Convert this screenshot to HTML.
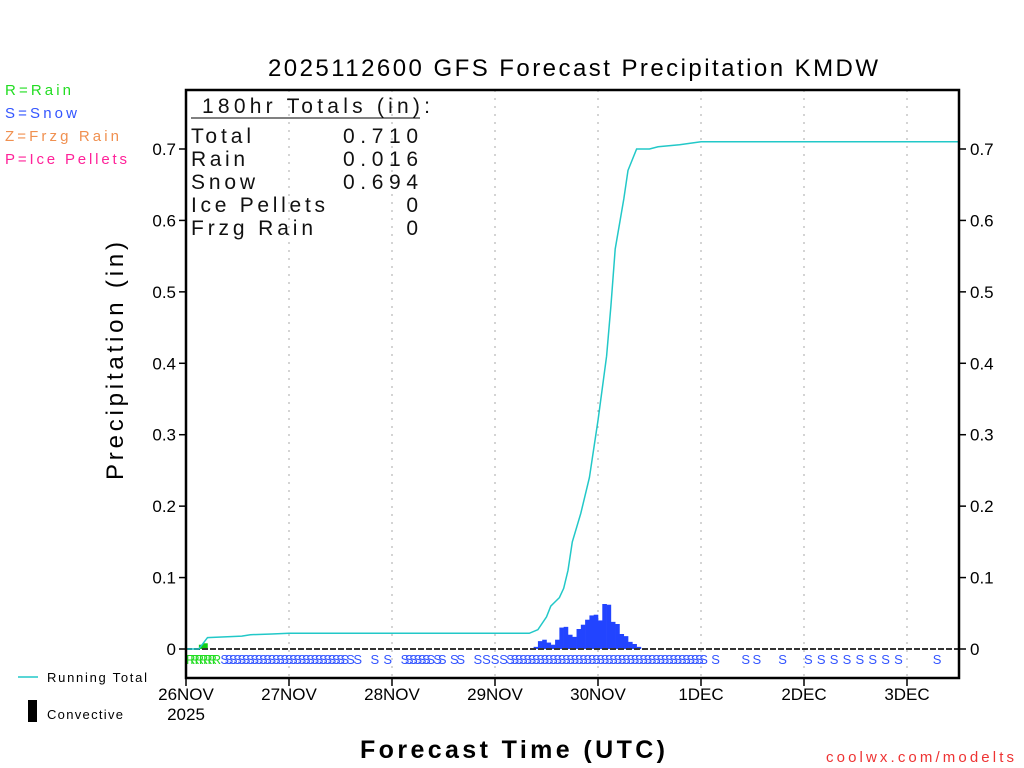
<!DOCTYPE html>
<html><head><meta charset="utf-8"><style>
body{margin:0;background:#fff;width:1024px;height:768px;overflow:hidden}
svg{display:block;font-family:"Liberation Sans","DejaVu Sans",sans-serif}
</style></head><body>
<svg id="chart" width="1024" height="768" viewBox="0 0 1024 768" xmlns="http://www.w3.org/2000/svg">
<text x="268" y="76" font-size="24" textLength="610" lengthAdjust="spacing" fill="#000">2025112600 GFS Forecast Precipitation KMDW</text>
<g font-size="15">
<text x="5" y="95" fill="#22dd22" textLength="66">R=Rain</text>
<text x="5" y="118" fill="#3355ff" textLength="72">S=Snow</text>
<text x="5" y="141" fill="#f09050" textLength="114">Z=Frzg Rain</text>
<text x="5" y="164" fill="#ff2299" textLength="122">P=Ice Pellets</text>
</g>
<g id="grid"></g>
<g id="bars"></g>
<line x1="186" y1="649" x2="959" y2="649" stroke="#333" stroke-width="2" stroke-dasharray="6,2"/>
<path id="line" fill="none" stroke="#22c8c8" stroke-width="1.5"/>
<g id="letters" font-size="13"></g>
<rect x="186" y="90" width="773" height="588" fill="none" stroke="#000" stroke-width="2.5"/>
<g id="axes" font-size="17"></g>
<g font-size="21" fill="#111">
<text x="202" y="113" textLength="228">180hr Totals (in):</text>
<line x1="191" y1="118" x2="420" y2="118" stroke="#000" stroke-width="1"/>
<text x="191" y="143" textLength="60">Total</text><text x="343" y="143" textLength="75">0.710</text>
<text x="191" y="166" textLength="54">Rain</text><text x="343" y="166" textLength="75">0.016</text>
<text x="191" y="189" textLength="64">Snow</text><text x="343" y="189" textLength="75">0.694</text>
<text x="191" y="212" textLength="134">Ice Pellets</text><text x="418" y="212" text-anchor="end">0</text>
<text x="191" y="235" textLength="122">Frzg Rain</text><text x="418" y="235" text-anchor="end">0</text>
</g>
<text x="123" y="361" font-size="24" text-anchor="middle" textLength="238" transform="rotate(-90 123 361)">Precipitation (in)</text>
<text x="360" y="758" font-size="25" textLength="305" font-weight="bold">Forecast Time (UTC)</text>
<text x="826" y="762" font-size="15" textLength="188" fill="#ee3333">coolwx.com/modelts</text>
<g>
<line x1="18" y1="677" x2="38" y2="677" stroke="#22c8c8" stroke-width="1.5"/>
<text x="47" y="682" font-size="13" textLength="100">Running Total</text>
<rect x="28" y="700" width="9" height="22" fill="#000"/>
<text x="47" y="719" font-size="13" textLength="76">Convective</text>
</g>
</svg>
<script>
const dayLabels=["26NOV","27NOV","28NOV","29NOV","30NOV","1DEC","2DEC","3DEC"];
const yTicks=[0,0.1,0.2,0.3,0.4,0.5,0.6,0.7];
const barHours=[4,5,82,83,84,85,86,87,88,89,90,91,92,93,94,95,96,97,98,99,100,101,102,103,104,105,106];
const barValues=[0.006,0.008,0.003,0.011,0.013,0.009,0.006,0.013,0.030,0.031,0.020,0.017,0.028,0.034,0.041,0.047,0.048,0.040,0.063,0.062,0.038,0.035,0.021,0.018,0.010,0.007,0.003];
const barTypes=["R","R","S","S","S","S","S","S","S","S","S","S","S","S","S","S","S","S","S","S","S","S","S","S","S","S","S"];
const lineHours=[0,3,5,9,13,15,20,24,80,82,84,85,87,88,89,90,92,94,96,98,99,100,102,103,105,108,110,115,120,180];
const lineValues=[0,0,0.016,0.017,0.018,0.020,0.021,0.022,0.022,0.027,0.045,0.06,0.072,0.085,0.11,0.15,0.19,0.24,0.32,0.41,0.48,0.56,0.63,0.67,0.70,0.70,0.703,0.706,0.71,0.71];
const rainHours=[0,1,2,3,4,5,6];
const snowHours=[8,9,10,11,12,13,14,15,16,17,18,19,20,21,22,23,24,25,26,27,28,29,30,31,32,33,34,35,36,37.3,39,43,46,50,51,52,53,54,55,56,57.6,58.7,61.5,63,67,69,71,73,74.6,75.6,76.6,77.6,78.6,79.6,80.6,81.6,82.6,83.6,84.6,85.6,86.6,87.6,88.6,89.6,90.6,91.6,92.6,93.6,94.6,95.6,96.6,97.6,98.6,99.6,100.6,101.6,102.6,103.6,104.6,105.6,106.6,107.6,108.6,109.6,110.6,111.6,112.6,113.6,114.6,115.6,116.6,117.6,118.6,119.6,122.4,129.4,132,138,144,147,150,153,156,159,162,165,174];

const NS="http://www.w3.org/2000/svg";
const X0=186,PXH=103/24,Y0=649,PXV=714.3;
const xs=h=>X0+h*PXH, ys=v=>Y0-v*PXV;
function mk(t,a,p){const e=document.createElementNS(NS,t);for(const k in a)e.setAttribute(k,a[k]);p.appendChild(e);return e;}
const grid=document.getElementById('grid'),axes=document.getElementById('axes');
dayLabels.forEach((d,i)=>{
  const x=xs(i*24);
  if(i>0){const g=mk('line',{x1:x,y1:90,x2:x,y2:678,stroke:'#aaa','stroke-dasharray':'2,6'},grid);
  
  }
  mk('line',{x1:x,y1:678,x2:x,y2:686,stroke:'#000','stroke-width':1.5},axes);
  const t=mk('text',{x:x,y:700,'text-anchor':'middle'},axes);t.textContent=d;
  
  
});
const yr=mk('text',{x:xs(0),y:720,'text-anchor':'middle'},axes);yr.textContent='2025';


yTicks.forEach(v=>{
  const y=ys(v),lab=v===0?'0':v.toFixed(1);
  mk('line',{x1:179,y1:y,x2:186,y2:y,stroke:'#000','stroke-width':1.5},axes);
  mk('line',{x1:959,y1:y,x2:966,y2:y,stroke:'#000','stroke-width':1.5},axes);
  const a=mk('text',{x:176,y:y+6,'text-anchor':'end'},axes);a.textContent=lab;
  
  
  const b=mk('text',{x:970,y:y+6},axes);b.textContent=lab;
  
  
});
const bars=document.getElementById('bars');
barHours.forEach((h,i)=>{
  const y=ys(barValues[i]);
  const r=mk('rect',{x:xs(h-1),y:y,width:PXH+0.3,height:Y0-y,fill:barTypes[i]==='R'?'#11cc11':'#2244ff'},bars);
  
  
});
document.getElementById('line').setAttribute('d',lineHours.map((h,i)=>(i?'L':'M')+xs(h).toFixed(1)+','+ys(lineValues[i]).toFixed(1)).join(''));
const L=document.getElementById('letters');
rainHours.forEach(h=>{const t=mk('text',{x:xs(h),y:664,fill:'#22dd22'},L);t.textContent='R';
  
  });
snowHours.forEach(h=>{const t=mk('text',{x:xs(h),y:664,fill:'#3355ff'},L);t.textContent='S';
  
  });
</script>
</body></html>
